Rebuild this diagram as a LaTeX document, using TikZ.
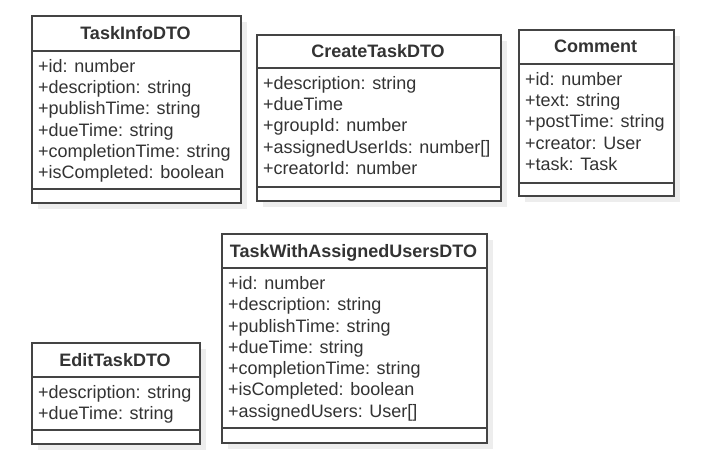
\documentclass[tikz,border=0pt]{standalone}
\usepackage{fontspec}
\setmainfont{Liberation Sans}
\definecolor{linec}{HTML}{444444}
\definecolor{textc}{HTML}{333333}
\definecolor{shadc}{HTML}{EDEDED}
\tikzset{
  boxst/.style={draw=linec, line width=1.6pt, fill=white},
  shadst/.style={fill=shadc, draw=none},
  titlest/.style={font=\fontsize{18}{21}\selectfont\bfseries, text=textc, inner sep=0pt, anchor=base},
  attrst/.style={font=\fontsize{18}{21}\selectfont, text=textc, inner sep=0pt, anchor=base west},
}
% name, left, top, right, header, separator, bottom, title, attributes
\newcommand\umlclass[9]{%
  \fill[shadst] (#2+7,#3+7) rectangle (#4+7,#7+7);
  \node[boxst, minimum width=#4-#2, minimum height=#7-#3, anchor=north west, inner sep=0pt] (#1) at (#2,#3) {};
  \draw[linec, line width=1.6pt] (#2,#5) -- (#4,#5);
  \draw[linec, line width=1.6pt] (#2,#6) -- (#4,#6);
  \node[titlest] (#1-title) at ({(#2+#4)/2},{(#3+#5)/2+6.5}) {#8};
  \foreach \t [count=\i] in {#9}
    \node[attrst] (#1-a\i) at (#2+7,{#5+21.5+(\i-1)*21.25}) {\t};
}
\begin{document}
\begin{tikzpicture}[x=1pt,y=-1pt]
\useasboundingbox[fill=white] (0,0) rectangle (703,465);
\umlclass{taskinfo}{31}{15}{240}{51}{189}{202}{TaskInfoDTO}%
  {+id: number,+description: string,+publishTime: string,+dueTime: string,+completionTime: string,+isCompleted: boolean}
\umlclass{createtask}{256}{34}{500}{68}{187}{200}{CreateTaskDTO}%
  {+description: string,+dueTime,+groupId: number,+assignedUserIds: number[],+creatorId: number}
\umlclass{comment}{518}{29}{673}{64}{183}{195}{Comment}%
  {+id: number,+text: string,+postTime: string,+creator: User,+task: Task}
\umlclass{edittask}{31}{342}{199}{377}{430}{443}{EditTaskDTO}%
  {+description: string,+dueTime: string}
\umlclass{taskwith}{221}{233}{486}{268}{428}{442}{TaskWithAssignedUsersDTO}%
  {+id: number,+description: string,+publishTime: string,+dueTime: string,+completionTime: string,+isCompleted: boolean,+assignedUsers: User[]}
\end{tikzpicture}
\end{document}
